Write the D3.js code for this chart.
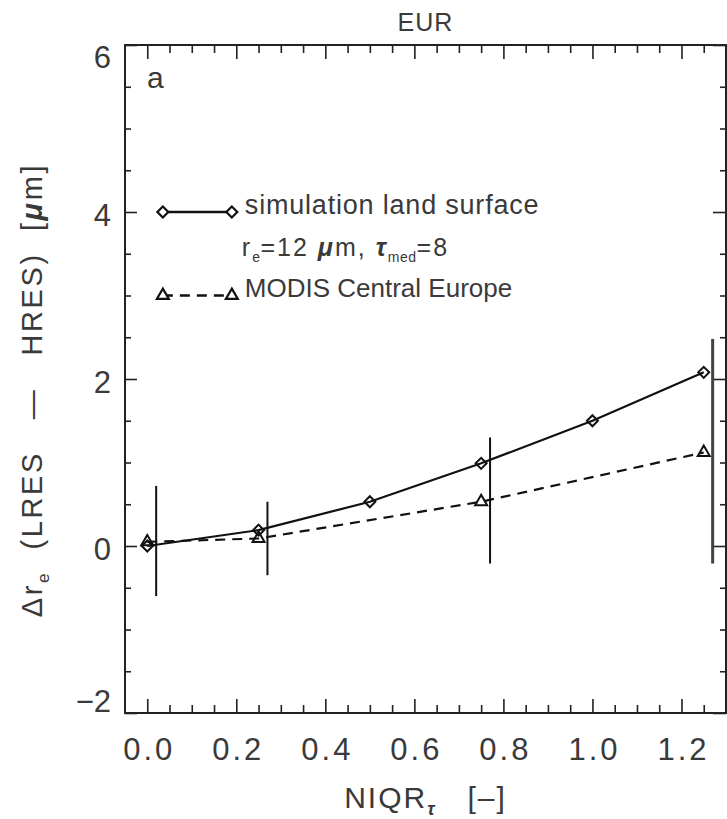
<!DOCTYPE html>
<html>
<head>
<meta charset="utf-8">
<script src="https://cdn.jsdelivr.net/npm/d3@7"></script>
<style>
    body { margin: 0; background: #fff; }
    text { font-family: "Liberation Sans", Arial, sans-serif; fill: #3a3a3a; white-space: pre; }
</style>
</head>
<body>
<div id="wrapper"></div>
<script>
// data
const niqrSim = [0.0, 0.25, 0.5, 0.75, 1.0, 1.25];
const dreSim = [0.0, 0.19, 0.53, 0.99, 1.50, 2.08];

const niqrModis = [0.0, 0.25, 0.75, 1.25];
const dreModis = [0.05, 0.09, 0.53, 1.12];

// error bars (drawn slightly right of the MODIS points)
const errNiqr = [0.02, 0.27, 0.77, 1.27];
const errLow = [-0.60, -0.35, -0.21, -0.21];
const errHigh = [0.72, 0.53, 1.30, 2.48];

const xTicks = [0.0, 0.2, 0.4, 0.6, 0.8, 1.0, 1.2];
const xMinor = d3.range(0.05, 1.3, 0.05);
const yTicks = [-2, 0, 2, 4, 6];
const yMinor = d3.range(-1.5, 6, 0.5);

function drawChart() {
    let dimensions = {
        width: 727,
        height: 819,
        margin: { top: 45, right: 1, bottom: 106, left: 125 },
    };
    dimensions.boundedWidth = dimensions.width - dimensions.margin.left - dimensions.margin.right;
    dimensions.boundedHeight = dimensions.height - dimensions.margin.top - dimensions.margin.bottom;

    const wrapper = d3.select("#wrapper")
        .append("svg")
        .attr("width", dimensions.width)
        .attr("height", dimensions.height);

    const bounds = wrapper.append("g")
        .attr("transform", `translate(${dimensions.margin.left},${dimensions.margin.top})`);

    const xScale = d3.scaleLinear()
        .domain([-0.05, 1.30])
        .range([0, dimensions.boundedWidth]);

    const yScale = d3.scaleLinear()
        .domain([-2, 6])
        .range([dimensions.boundedHeight, 0]);

    // ticks on all four sides, pointing inward
    function tickAxis(gen, vals, size, transform) {
        const g = bounds.append("g")
            .attr("transform", transform || null)
            .call(gen.tickValues(vals).tickSize(size).tickFormat(""));
        g.select(".domain").remove();
        g.selectAll("line").attr("stroke", "#222").attr("stroke-width", 1.6);
    }
    const isMinorX = v => Math.abs(v * 5 - Math.round(v * 5)) > 0.01;
    const bh = dimensions.boundedHeight, bw = dimensions.boundedWidth;
    tickAxis(d3.axisBottom(xScale), xTicks, -14, `translate(0,${bh})`);
    tickAxis(d3.axisBottom(xScale), xMinor.filter(isMinorX), -8, `translate(0,${bh})`);
    tickAxis(d3.axisTop(xScale), xTicks, -14);
    tickAxis(d3.axisTop(xScale), xMinor.filter(isMinorX), -8);
    tickAxis(d3.axisLeft(yScale), yTicks, -12);
    tickAxis(d3.axisLeft(yScale), yMinor.filter(v => v % 2 !== 0), -6);
    tickAxis(d3.axisRight(yScale), yTicks, -13, `translate(${bw},0)`);
    tickAxis(d3.axisRight(yScale), yMinor.filter(v => v % 2 !== 0), -6, `translate(${bw},0)`);

    // frame
    bounds.append("rect")
        .attr("width", bw)
        .attr("height", bh)
        .attr("fill", "none")
        .attr("stroke", "#222")
        .attr("stroke-width", 2);

    // tick labels
    const xLabels = bounds.append("g")
        .attr("transform", `translate(0,${bh})`)
        .call(d3.axisBottom(xScale).tickValues(xTicks).tickSize(0).tickPadding(25).tickFormat(d3.format(".1f")));
    xLabels.select(".domain").remove();
    xLabels.selectAll("text")
        .attr("font-size", 31)
        .attr("fill", "#3a3a3a")
        .attr("letter-spacing", 3)
        .attr("dx", 1.5);

    const yLabels = bounds.append("g")
        .call(d3.axisLeft(yScale).tickValues(yTicks).tickSize(0).tickPadding(14).tickFormat(d3.format("d")));
    yLabels.select(".domain").remove();
    yLabels.selectAll("text")
        .attr("font-size", 31)
        .attr("fill", "#3a3a3a")
        .attr("dy", d => d === 6 ? "0.74em" : d === -2 ? "-0.05em" : "0.45em");

    // error bars
    bounds.selectAll(".err")
        .data(errNiqr)
        .enter().append("line")
        .attr("class", "err")
        .attr("x1", d => xScale(d))
        .attr("x2", d => xScale(d))
        .attr("y1", (d, i) => yScale(errLow[i]))
        .attr("y2", (d, i) => yScale(errHigh[i]))
        .attr("stroke", (d, i) => i === errNiqr.length - 1 ? "#444" : "#111")
        .attr("stroke-width", (d, i) => i === errNiqr.length - 1 ? 3 : 2);

    // lines
    const simData = niqrSim.map((d, i) => [d, dreSim[i]]);
    const modisData = niqrModis.map((d, i) => [d, dreModis[i]]);
    const lineGen = d3.line()
        .x(d => xScale(d[0]))
        .y(d => yScale(d[1]));

    bounds.append("path")
        .attr("d", lineGen(modisData))
        .attr("fill", "none")
        .attr("stroke", "#111")
        .attr("stroke-width", 2.2)
        .attr("stroke-dasharray", "10,7");

    bounds.append("path")
        .attr("d", lineGen(simData))
        .attr("fill", "none")
        .attr("stroke", "#111")
        .attr("stroke-width", 2.2);

    const diamond = d3.symbol().type(d3.symbolSquare).size(60)();
    const triangle = d3.symbol().type(d3.symbolTriangle).size(62)();

    bounds.selectAll(".dia")
        .data(simData)
        .enter().append("path")
        .attr("class", "dia")
        .attr("d", diamond)
        .attr("transform", d => `translate(${xScale(d[0])},${yScale(d[1])}) rotate(45)`)
        .attr("fill", "none")
        .attr("stroke", "#111")
        .attr("stroke-width", 2);

    bounds.selectAll(".tri")
        .data(modisData)
        .enter().append("path")
        .attr("class", "tri")
        .attr("d", triangle)
        .attr("transform", d => `translate(${xScale(d[0])},${yScale(d[1])})`)
        .attr("fill", "none")
        .attr("stroke", "#111")
        .attr("stroke-width", 2);

    // legend
    const lx0 = xScale(0.035), lx1 = xScale(0.19);
    const ly1 = yScale(4), ly3 = yScale(3);
    const legend = bounds.append("g");
    legend.append("line")
        .attr("x1", lx0).attr("x2", lx1).attr("y1", ly1).attr("y2", ly1)
        .attr("stroke", "#111").attr("stroke-width", 2.5);
    [lx0, lx1].forEach(x => legend.append("path")
        .attr("d", diamond)
        .attr("transform", `translate(${x},${ly1}) rotate(45)`)
        .attr("fill", "#fff").attr("stroke", "#111").attr("stroke-width", 2.2));
    legend.append("line")
        .attr("x1", lx0).attr("x2", lx1).attr("y1", ly3).attr("y2", ly3)
        .attr("stroke", "#111").attr("stroke-width", 2.5)
        .attr("stroke-dasharray", "10,7");
    [lx0, lx1].forEach(x => legend.append("path")
        .attr("d", triangle)
        .attr("transform", `translate(${x},${ly3})`)
        .attr("fill", "#fff").attr("stroke", "#111").attr("stroke-width", 2.2));

    legend.append("text")
        .attr("x", lx1 + 13).attr("y", ly1 + 2)
        .attr("font-size", 27)
        .attr("letter-spacing", 0.8)
        .text("simulation land surface");

    const l2 = legend.append("text")
        .attr("x", lx1 + 10).attr("y", (ly1 + ly3) / 2 + 2)
        .attr("font-size", 25)
        .attr("letter-spacing", 2);
    l2.append("tspan").text("r");
    l2.append("tspan").attr("font-size", 14).attr("letter-spacing", 0.5).attr("dy", 6).text("e");
    l2.append("tspan").attr("dy", -6).text("=12 ");
    l2.append("tspan").attr("font-style", "italic").attr("font-weight", "bold").text("μ");
    l2.append("tspan").text("m, ");
    l2.append("tspan").attr("font-style", "italic").attr("font-weight", "bold").text("τ");
    l2.append("tspan").attr("font-size", 14).attr("letter-spacing", 0.5).attr("dy", 6).text("med");
    l2.append("tspan").attr("dy", -6).text("=8");

    legend.append("text")
        .attr("x", lx1 + 13).attr("y", ly3 + 1)
        .attr("font-size", 26)
        .text("MODIS Central Europe");

    // panel letter
    bounds.append("text")
        .attr("x", 22).attr("y", 43)
        .attr("font-size", 30)
        .text("a");

    // title
    wrapper.append("text")
        .attr("x", dimensions.margin.left + bw / 2)
        .attr("y", 31)
        .attr("text-anchor", "middle")
        .attr("font-size", 25)
        .attr("letter-spacing", 1)
        .text("EUR");

    // x axis label
    const xl = wrapper.append("text")
        .attr("x", dimensions.margin.left + bw / 2)
        .attr("y", 808)
        .attr("text-anchor", "middle")
        .attr("font-size", 30)
        .attr("letter-spacing", 2);
    xl.append("tspan").text("NIQR");
    xl.append("tspan").attr("font-size", 18).attr("dy", 7).attr("font-weight", "bold").attr("font-style", "italic").text("τ");
    xl.append("tspan").attr("dy", -7).text("   [–]");

    // y axis label
    const yl = wrapper.append("text")
        .attr("transform", `translate(42,${dimensions.margin.top + bh / 2 + 11}) rotate(-90)`)
        .attr("text-anchor", "middle")
        .attr("font-size", 29)
        .attr("letter-spacing", 2.6);
    yl.append("tspan").text("Δr");
    yl.append("tspan").attr("font-size", 17).attr("dy", 7).text("e");
    yl.append("tspan").attr("dy", -7).text("  (LRES   —   HRES)  [");
    yl.append("tspan").attr("font-style", "italic").attr("font-weight", "bold").text("μ");
    yl.append("tspan").text("m]");
}

drawChart();
</script>
</body>
</html>
